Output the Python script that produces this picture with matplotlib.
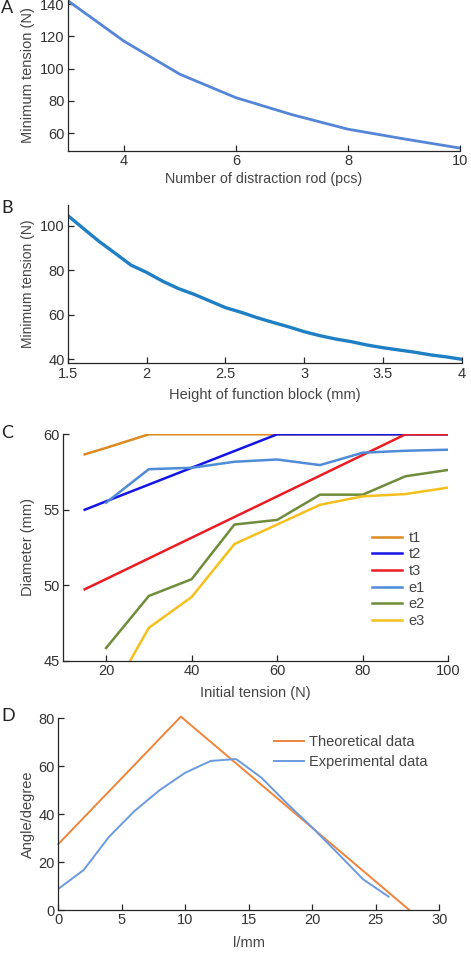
import matplotlib
matplotlib.use("Agg")
import matplotlib.pyplot as plt

plt.rcParams['font.family'] = ['Liberation Sans', 'DejaVu Sans']

W, H = 471, 956

# ---------------- data ----------------
rods = [3, 4, 5, 6, 7, 8, 9, 10]
tension_rods = [142, 117, 96.5, 82, 71.5, 62.5, 56.5, 50.8]

block_h = [1.5, 1.6, 1.7, 1.8, 1.9, 2.0, 2.1, 2.2, 2.3, 2.4, 2.5, 2.6, 2.7,
           2.8, 2.9, 3.0, 3.1, 3.2, 3.3, 3.4, 3.5, 3.6, 3.7, 3.8, 3.9, 4.0]
tension_block = [104.5, 98.6, 92.8, 87.6, 82.3, 79.0, 75.1, 71.8, 69.2, 66.2,
                 63.2, 61.1, 58.7, 56.6, 54.6, 52.4, 50.6, 49.1, 47.9, 46.4,
                 45.2, 44.2, 43.2, 42.0, 41.1, 40.0]

init_t = [15, 20, 30, 40, 50, 60, 70, 80, 90, 100]
t1 = [58.67, 59.1, 60, 60, 60, 60, 60, 60, 60, 60]
t2 = [55.0, 55.56, 56.67, 57.78, 58.89, 60, 60, 60, 60, 60]
t3 = [49.73, 50.41, 51.78, 53.15, 54.52, 55.89, 57.26, 58.63, 60, 60]
exp_t = [20, 30, 40, 50, 60, 70, 80, 90, 100]
e1 = [55.47, 57.69, 57.78, 58.18, 58.33, 57.96, 58.78, 58.91, 58.98]
e2 = [45.84, 49.29, 50.40, 54.02, 54.33, 56.0, 56.0, 57.22, 57.64]
e3 = [42.2, 47.18, 49.22, 52.73, 54.02, 55.33, 55.89, 56.04, 56.47]
c_labels = ['t1', 't2', 't3', 'e1', 'e2', 'e3']

theo_l = [0, 9.65, 27.64]
theo_a = [27.5, 80.7, 0]
exp_l = [0, 2, 4, 6, 8, 10, 12, 14, 16, 18, 20, 22, 24, 26]
exp_a = [8.8, 16.7, 30.6, 41.3, 50.1, 57.3, 62.2, 63.0, 55.2, 44.5, 34.4, 23.7, 12.8, 5.6]

# ---------------- layout helpers ----------------
fig = plt.figure(figsize=(W / 100, H / 100), dpi=100)


def make_ax(l, r, t, b):
    ax = fig.add_axes([l / W, 1 - b / H, (r - l) / W, (b - t) / H])
    for s in ('top', 'right'):
        ax.spines[s].set_visible(False)
    for s in ('left', 'bottom'):
        ax.spines[s].set_color('#262626')
        ax.spines[s].set_linewidth(0.9)
    ax.tick_params(direction='in', length=4, width=0.9, color='#262626',
                   labelcolor='#333333', labelsize=10.5, pad=2.5)
    ax.patch.set_alpha(0)
    return ax


tc = '#444444'

# ---------------- A ----------------
axA = make_ax(68, 460, 0, 151)
axA.plot(rods, tension_rods, color='#5585D6', lw=2.0, solid_capstyle='round')
axA.set_xlim(3, 10)
axA.set_ylim(49, 142.5)
axA.set_xticks([4, 6, 8, 10])
axA.set_yticks([60, 80, 100, 120, 140])
axA.set_xlabel('Number of distraction rod (pcs)', fontsize=10.3, color=tc)
axA.set_ylabel('Minimum tension (N)', fontsize=10.5, color=tc)

# ---------------- B ----------------
axB = make_ax(68, 461.7, 205, 363.3)
axB.plot(block_h, tension_block, color='#1F7FC4', lw=2.4)
axB.set_xlim(1.5, 4)
axB.set_ylim(38.2, 109.3)
axB.set_xticks([1.5, 2, 2.5, 3, 3.5, 4])
axB.set_xticklabels(['1.5', '2', '2.5', '3', '3.5', '4'])
axB.set_yticks([40, 60, 80, 100])
axB.set_xlabel('Height of function block (mm)', fontsize=10.5, color=tc)
axB.set_ylabel('Minimum tension (N)', fontsize=10, color=tc)

# ---------------- C ----------------
axC = make_ax(63.3, 448.3, 434.3, 660.7)
cols = ['#DC8A22', '#1414E6', '#EC1C24', '#4F8BD6', '#6E8C3A', '#F5C01E']
axC.plot(init_t, t1, color=cols[0], lw=1.8, label=c_labels[0])
axC.plot(init_t, t2, color=cols[1], lw=1.8, label=c_labels[1])
axC.plot(init_t, t3, color=cols[2], lw=1.8, label=c_labels[2])
axC.plot(exp_t, e1, color=cols[3], lw=1.8, label=c_labels[3])
axC.plot(exp_t, e2, color=cols[4], lw=1.8, label=c_labels[4])
axC.plot(exp_t, e3, color=cols[5], lw=1.8, label=c_labels[5])
axC.set_xlim(10, 100)
axC.set_ylim(45, 60)
axC.set_xticks([20, 40, 60, 80, 100])
axC.set_yticks([45, 50, 55, 60])
axC.set_xlabel('Initial tension (N)', fontsize=10.5, color=tc)
axC.set_ylabel('Diameter (mm)', fontsize=10.5, color=tc)
legC = axC.legend(loc='upper left', bbox_to_anchor=((366 - 63.3) / 385, (660.7 - 525) / 226.4),
                  frameon=False, fontsize=10.5, handlelength=2.1, handletextpad=0.4,
                  labelspacing=0.18, borderaxespad=0)
for t in legC.get_texts():
    t.set_color(tc)

# ---------------- D ----------------
axD = make_ax(58.3, 439.3, 718.3, 910)
axD.plot(theo_l, theo_a, color='#F0843A', lw=1.4, label='Theoretical data', clip_on=False)
axD.plot(exp_l, exp_a, color='#6A9AE0', lw=1.4, label='Experimental data')
axD.set_xlim(0, 30)
axD.set_ylim(0, 80)
axD.set_xticks([0, 5, 10, 15, 20, 25, 30])
axD.set_yticks([0, 20, 40, 60, 80])
axD.set_xlabel('l/mm', fontsize=10.5, color=tc)
axD.set_ylabel('Angle/degree', fontsize=10.5, color=tc)
legD = axD.legend(loc='upper left', bbox_to_anchor=((268 - 58.3) / 381, (910 - 729) / 191.7),
                  frameon=False, fontsize=10.5, handlelength=2.05, handletextpad=0.35,
                  labelspacing=0.4, borderaxespad=0)
for t in legD.get_texts():
    t.set_color(tc)

# y-label x position and x-label y position in pixel terms
for ax, (l, r, t, b), xl_y in [
        (axA, (68, 460, 0, 151), 179),
        (axB, (68, 461.7, 205, 363.3), 395),
        (axC, (63.3, 448.3, 434.3, 660.7), 692.7),
        (axD, (58.3, 439.3, 718.3, 910), 943.3)]:
    ax.yaxis.set_label_coords(-(l - 28) / (r - l), 0.5)
    ax.xaxis.set_label_coords(0.5, -(xl_y - b) / (b - t))
    ax.xaxis.label.set_va('center')
    ax.yaxis.label.set_va('center')

# panel letters
for letter, y in [('A', 8), ('B', 208), ('C', 433), ('D', 716)]:
    fig.text(1 / W, 1 - y / H, letter, fontsize=13, family='Lato', color='#222222',
             va='center', ha='left')

fig.savefig('out.png', dpi=100)
